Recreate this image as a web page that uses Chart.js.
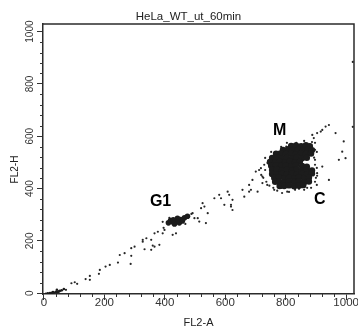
<!DOCTYPE html>
<html><head><meta charset="utf-8">
<script src="https://cdn.jsdelivr.net/npm/chart.js@4.4.1/dist/chart.umd.min.js"></script>
<style>html,body{margin:0;padding:0;background:#fff;}canvas{display:block;}</style>
</head><body>
<canvas id="c" width="358" height="329"></canvas>
<script>
const chartTitle = 'HeLa_WT_ut_60min';
const xAxisTitle = 'FL2-A';
const yAxisTitle = 'FL2-H';
const majorTicks = [0, 200, 400, 600, 800, 1000];
const tickLabels = ['0', '200', '400', '600', '800', '1000'];
const minorTicks = [40,80,120,160,240,280,320,360,440,480,520,560,640,680,720,760,840,880,920,960];

// dense M / C population (FL2-A, FL2-H)
const mcCore = [
  [818,563],[834,565],[851,562],[867,566],[880,562],
  [791,548],[808,550],[824,547],[841,549],[857,546],[874,550],[887,547],
  [768,533],[785,535],[801,532],[818,534],[834,531],[851,535],[867,532],[884,534],
  [755,517],[771,519],[788,516],[804,518],[821,515],[837,519],[854,516],[870,518],
  [748,502],[765,500],[781,503],[798,501],[814,504],[831,500],[847,503],
  [752,487],[768,489],[785,486],[801,488],[818,485],[834,489],[854,486],[870,484],
  [755,471],[771,473],[788,470],[804,472],[821,469],[837,473],[854,470],[870,472],[887,469],
  [755,456],[771,454],[788,457],[804,455],[821,458],[837,454],[854,457],[870,455],[887,458],
  [762,441],[778,443],[795,440],[811,442],[828,439],[844,443],[861,440],[877,442],
  [765,426],[778,426],[795,424],[811,427],[828,425],[844,428],[861,424],[877,427],
  [780,410],[795,410],[811,412],[828,409],[844,411],[858,413]
];
// dense G1 population
const g1Core = [
  [412,269],[425,273],[439,276],[452,282],[465,288],[475,294],[432,265],
  [448,269],[442,286],[419,278],[458,276],[428,281]
];
// sparse events
const events = [
  [73,13],[91,38],[102,42],[110,36],[138,54],[152,66],[152,51],[182,74],[185,89],[204,102],
  [218,108],[245,117],[287,112],[251,146],[267,153],[289,143],[289,172],[300,178],[327,197],
  [333,168],[355,166],[366,178],[327,204],[339,210],[355,204],[366,229],[377,235],[393,229],
  [399,242],[360,182],[382,185],[426,223],[437,229],
  [396,250],[488,303],[468,265],[415,288],[393,273],
  [492,306],[498,287],[520,325],[531,331],[509,287],[542,306],[514,274],[536,268],[525,344],
  [564,363],[586,363],[608,388],[613,376],[619,338],[597,338],[580,376],[624,357],[619,331],[624,318],
  [663,369],[657,395],[679,414],[690,433],[701,465],[712,471],[718,478],[723,421],[707,388],
  [685,395],[679,388],[723,446],
  [729,491],[719,452],[739,414],[762,395],[788,383],[811,387],[831,395],[861,395],[884,403],
  [903,414],[900,441],[903,479],[897,510],[903,540],[897,575],[804,575],[785,559],[752,540],[732,517],
  [888,605],[904,612],[921,624],[932,637],[943,643],[916,618],[893,593],[965,612],[992,580],
  [987,541],[998,516],[976,510],[921,484],[904,459],[943,433],
  [1022,884],[1022,636],
  [732,471],[726,441],[736,426],[746,411],[759,403],[772,392],[786,403],[805,388],[844,399],
  [871,403],[897,426],[904,449],[897,491],[894,518],[897,548],[887,578],[861,582],[835,575],
  [802,560],[776,540],[753,521],[740,498]
];
// debris near origin
const debris = [
  [7,-2],[13,0],[20,1],[26,2],[30,4],[33,3],[40,5],[46,5],[50,7],[53,9],[59,11],[43,13],[66,16]
];
const clusterLabels = ['M', 'C', 'G1'];
const clusterLabelAt = [[780,620],[913,357],[386,349]];

const toPts = a => a.map(p => ({x: p[0], y: p[1]}));
const FONT = '"Liberation Sans", Arial, Helvetica, sans-serif';
const INK = '#1c1c1c';

const decor = {
  id: 'decor',
  afterDraw(chart) {
    const {ctx, chartArea: a, scales: {x, y}} = chart;
    ctx.save();
    ctx.strokeStyle = '#2b2b2b';
    ctx.lineWidth = 1.5;
    ctx.beginPath();
    ctx.moveTo(a.left, a.top); ctx.lineTo(a.right, a.top); ctx.lineTo(a.right, a.bottom);
    ctx.stroke();
    ctx.lineWidth = 1;
    ctx.strokeStyle = '#333';
    ctx.beginPath();
    minorTicks.forEach(v => {
      const px = Math.round(x.getPixelForValue(v)) + 0.5;
      ctx.moveTo(px, a.bottom); ctx.lineTo(px, a.bottom + 3);
      const py = Math.round(y.getPixelForValue(v)) + 0.5;
      ctx.moveTo(a.left, py); ctx.lineTo(a.left - 3, py);
    });
    ctx.stroke();
    ctx.fillStyle = '#222';
    ctx.textAlign = 'center'; ctx.textBaseline = 'middle';
    ctx.font = '11.5px ' + FONT;
    ctx.fillText(chartTitle, 188.5, 16.5);
    ctx.font = '11px ' + FONT;
    ctx.fillText(xAxisTitle, 198.5, 323);
    ctx.save();
    ctx.translate(15.5, 169.5);
    ctx.rotate(-Math.PI / 2);
    ctx.font = '10px ' + FONT;
    ctx.fillText(yAxisTitle, 0, 0);
    ctx.restore();
    ctx.fillStyle = '#000';
    ctx.font = 'bold 16px ' + FONT;
    clusterLabels.forEach((t, i) => {
      ctx.fillText(t, x.getPixelForValue(clusterLabelAt[i][0]), y.getPixelForValue(clusterLabelAt[i][1]));
    });
    ctx.restore();
  }
};

new Chart(document.getElementById('c'), {
  type: 'scatter',
  data: {
    datasets: [
      {data: toPts(mcCore), pointRadius: 3.2, backgroundColor: INK, borderWidth: 0},
      {data: toPts(g1Core), pointRadius: 2.8, backgroundColor: INK, borderWidth: 0},
      {data: toPts(events), pointRadius: 1.1, backgroundColor: '#262626', borderWidth: 0},
      {data: toPts(debris), pointRadius: 1.3, backgroundColor: INK, borderWidth: 0}
    ]
  },
  options: {
    responsive: false, animation: false, devicePixelRatio: 1,
    layout: {padding: {top: 24, right: 3, left: 0, bottom: 0}},
    plugins: {legend: {display: false}, tooltip: {enabled: false}, title: {display: false}},
    scales: {
      x: {
        type: 'linear', min: -3, max: 1026,
        afterBuildTicks: s => { s.ticks = majorTicks.map(v => ({value: v})); },
        afterFit: s => { s.height = 35; s.paddingLeft = 0; s.paddingRight = 0; },
        grid: {drawOnChartArea: false, drawTicks: true, tickLength: 6, tickColor: '#333', tickWidth: 1},
        border: {display: true, color: '#2b2b2b', width: 1.5},
        ticks: {
          callback: (v, i) => tickLabels[i], autoSkip: false, maxRotation: 0, minRotation: 0,
          color: '#333', padding: -3, font: {family: FONT, size: 11.5, lineHeight: 1}
        }
      },
      y: {
        type: 'linear', min: -3, max: 1029,
        afterBuildTicks: s => { s.ticks = majorTicks.map(v => ({value: v})); },
        afterFit: s => { s.width = 43; s.paddingTop = 0; s.paddingBottom = 0; },
        grid: {drawOnChartArea: false, drawTicks: true, tickLength: 6, tickColor: '#333', tickWidth: 1},
        border: {display: true, color: '#2b2b2b', width: 1.5},
        ticks: {
          callback: (v, i) => tickLabels[i], autoSkip: false, minRotation: 90, maxRotation: 90,
          crossAlign: 'center', color: '#333', padding: -4.5, font: {family: FONT, size: 10, lineHeight: 1}
        }
      }
    }
  },
  plugins: [decor]
});
</script>
</body></html>
